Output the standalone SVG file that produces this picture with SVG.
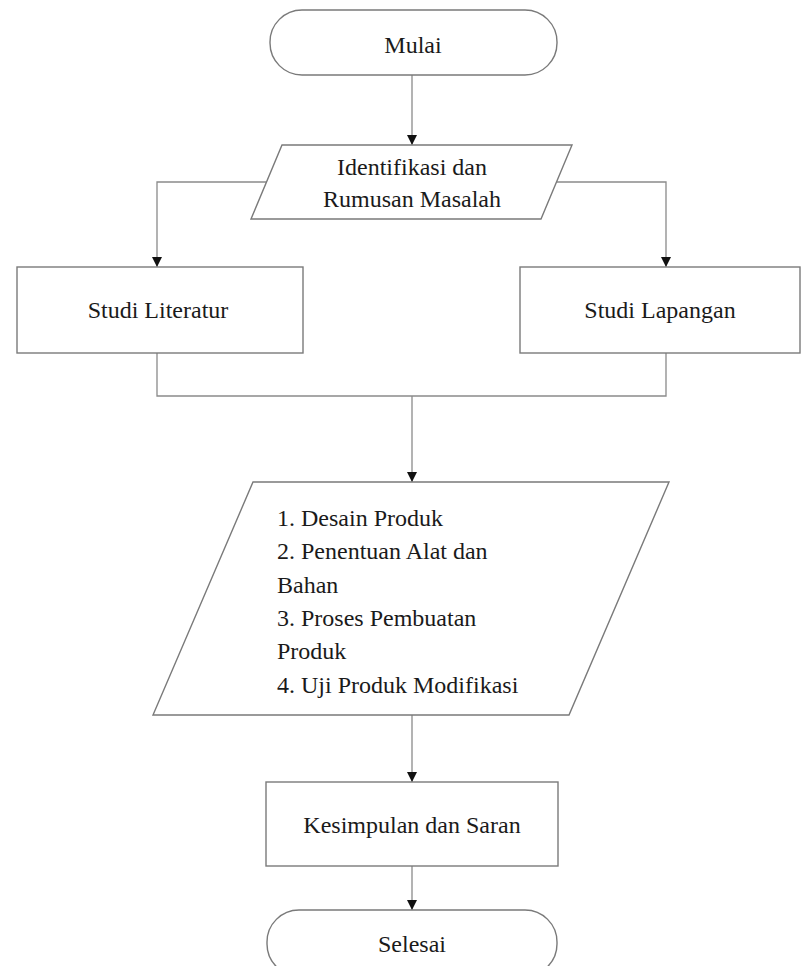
<svg xmlns="http://www.w3.org/2000/svg" width="802" height="966" viewBox="0 0 802 966">
<defs>
<style>
.shape{fill:#fff;stroke:#7a7a7a;stroke-width:1.4}
.conn{fill:none;stroke:#8a8a8a;stroke-width:1.3}
</style>
<marker id="arr" viewBox="0 0 10 10" refX="10" refY="5" markerWidth="10" markerHeight="10" markerUnits="userSpaceOnUse" orient="auto">
<path d="M0,0 L10,5 L0,10 Z" fill="#111"/>
</marker>
</defs>
<rect width="802" height="966" fill="#fff"/>
<g id="connectors">
<path class="conn" d="M412,75 V145" marker-end="url(#arr)"/>
<path class="conn" d="M266,182 H157 V267" marker-end="url(#arr)"/>
<path class="conn" d="M557,182 H666 V267" marker-end="url(#arr)"/>
<path class="conn" d="M157,353 V396 H666 V353"/>
<path class="conn" d="M412,396 V482" marker-end="url(#arr)"/>
<path class="conn" d="M412,715 V782" marker-end="url(#arr)"/>
<path class="conn" d="M412,866 V910" marker-end="url(#arr)"/>
</g>
<g font-family="Liberation Serif, Times New Roman, serif" font-size="24" fill="#1a1a1a">
<g id="mulai">
<rect class="shape" x="270" y="10" width="287" height="65" rx="32" ry="32"/>
<text text-anchor="middle" x="413" y="53">Mulai</text>
</g>
<g id="identifikasi">
<polygon class="shape" points="282,145 572,145 541,219 251,219"/>
<text text-anchor="middle" x="412" y="175">Identifikasi dan</text>
<text text-anchor="middle" x="412" y="207">Rumusan Masalah</text>
</g>
<g id="studi-literatur">
<rect class="shape" x="17" y="267" width="286" height="86"/>
<text text-anchor="middle" x="158" y="318">Studi Literatur</text>
</g>
<g id="studi-lapangan">
<rect class="shape" x="520" y="267" width="280" height="86"/>
<text text-anchor="middle" x="660" y="318">Studi Lapangan</text>
</g>
<g id="proses">
<polygon class="shape" points="253,482 669,482 569,715 153,715"/>
<text x="277" y="526">1. Desain Produk</text>
<text x="277" y="559">2. Penentuan Alat dan</text>
<text x="277" y="593">Bahan</text>
<text x="277" y="626">3. Proses Pembuatan</text>
<text x="277" y="659">Produk</text>
<text x="277" y="693">4. Uji Produk Modifikasi</text>
</g>
<g id="kesimpulan">
<rect class="shape" x="266" y="782" width="292" height="84"/>
<text text-anchor="middle" x="412" y="833">Kesimpulan dan Saran</text>
</g>
<g id="selesai">
<rect class="shape" x="267" y="910" width="290" height="66" rx="32" ry="32"/>
<text text-anchor="middle" x="412" y="952">Selesai</text>
</g>
</g>
</svg>
